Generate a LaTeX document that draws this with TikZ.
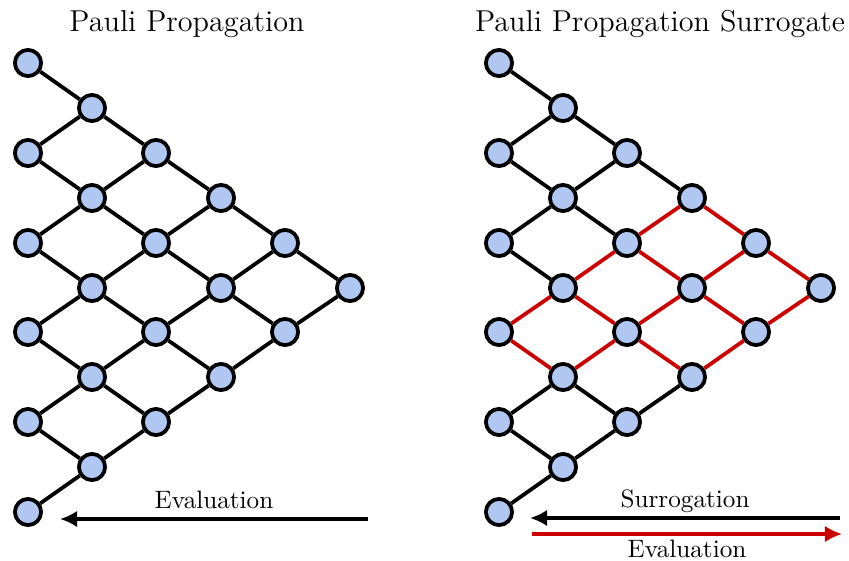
\documentclass[tikz,border=0pt]{standalone}
\usepackage{tikz}
\usetikzlibrary{arrows,arrows.meta}
\definecolor{sitefill}{RGB}{176,199,242}
\definecolor{surrred}{RGB}{204,0,0}

\begin{document}
\begin{tikzpicture}[>={Latex[length=6.8pt,width=6.6pt]},line join=bevel,scale=0.3956,
  site/.style={circle,draw=black,fill=sitefill,line width=1.5pt,inner sep=0pt,minimum size=10.4pt},
  bond/.style={draw=black,line width=1.5pt},
  sbond/.style={draw=surrred,line width=1.5pt}]
  \useasboundingbox (0bp,0bp) rectangle (849bp,560bp);
%%
  % Titles
  \node (tprop) at (187bp,536bp) {\large Pauli Propagation};
  \node (tsurr) at (660bp,536bp) {\large Pauli Propagation Surrogate};
%%
  % Nodes: left lattice, column 0
  \node[site] (p00) at (28bp,497bp) {};
  \node[site] (p01) at (28bp,407bp) {};
  \node[site] (p02) at (28bp,317bp) {};
  \node[site] (p03) at (28bp,228bp) {};
  \node[site] (p04) at (28bp,138bp) {};
  \node[site] (p05) at (28bp,48bp) {};
  % Nodes: left lattice, column 1
  \node[site] (p10) at (92bp,452bp) {};
  \node[site] (p11) at (92bp,362bp) {};
  \node[site] (p12) at (92bp,272bp) {};
  \node[site] (p13) at (92bp,183bp) {};
  \node[site] (p14) at (92bp,93bp) {};
  % Nodes: left lattice, column 2
  \node[site] (p20) at (156bp,407bp) {};
  \node[site] (p21) at (156bp,317bp) {};
  \node[site] (p22) at (156bp,228bp) {};
  \node[site] (p23) at (156bp,138bp) {};
  % Nodes: left lattice, columns 3 to 5
  \node[site] (p30) at (221bp,362bp) {};
  \node[site] (p31) at (221bp,272bp) {};
  \node[site] (p32) at (221bp,183bp) {};
  \node[site] (p40) at (285bp,317bp) {};
  \node[site] (p41) at (285bp,228bp) {};
  \node[site] (p50) at (350bp,272bp) {};
%%
  % Nodes: right lattice, column 0
  \node[site] (s00) at (499bp,497bp) {};
  \node[site] (s01) at (499bp,407bp) {};
  \node[site] (s02) at (499bp,317bp) {};
  \node[site] (s03) at (499bp,228bp) {};
  \node[site] (s04) at (499bp,138bp) {};
  \node[site] (s05) at (499bp,48bp) {};
  % Nodes: right lattice, column 1
  \node[site] (s10) at (563bp,452bp) {};
  \node[site] (s11) at (563bp,362bp) {};
  \node[site] (s12) at (563bp,272bp) {};
  \node[site] (s13) at (563bp,183bp) {};
  \node[site] (s14) at (563bp,93bp) {};
  % Nodes: right lattice, column 2
  \node[site] (s20) at (627bp,407bp) {};
  \node[site] (s21) at (627bp,317bp) {};
  \node[site] (s22) at (627bp,228bp) {};
  \node[site] (s23) at (627bp,138bp) {};
  % Nodes: right lattice, columns 3 to 5
  \node[site] (s30) at (692bp,362bp) {};
  \node[site] (s31) at (692bp,272bp) {};
  \node[site] (s32) at (692bp,183bp) {};
  \node[site] (s40) at (756bp,317bp) {};
  \node[site] (s41) at (756bp,228bp) {};
  \node[site] (s50) at (821bp,272bp) {};
%%
  % Edges: left lattice
  \draw[bond] (p00) -- (p10);
  \draw[bond] (p01) -- (p10);
  \draw[bond] (p01) -- (p11);
  \draw[bond] (p02) -- (p11);
  \draw[bond] (p02) -- (p12);
  \draw[bond] (p03) -- (p12);
  \draw[bond] (p03) -- (p13);
  \draw[bond] (p04) -- (p13);
  \draw[bond] (p04) -- (p14);
  \draw[bond] (p05) -- (p14);
  \draw[bond] (p10) -- (p20);
  \draw[bond] (p11) -- (p20);
  \draw[bond] (p11) -- (p21);
  \draw[bond] (p12) -- (p21);
  \draw[bond] (p12) -- (p22);
  \draw[bond] (p13) -- (p22);
  \draw[bond] (p13) -- (p23);
  \draw[bond] (p14) -- (p23);
  \draw[bond] (p20) -- (p30);
  \draw[bond] (p21) -- (p30);
  \draw[bond] (p21) -- (p31);
  \draw[bond] (p22) -- (p31);
  \draw[bond] (p22) -- (p32);
  \draw[bond] (p23) -- (p32);
  \draw[bond] (p30) -- (p40);
  \draw[bond] (p31) -- (p40);
  \draw[bond] (p31) -- (p41);
  \draw[bond] (p32) -- (p41);
  \draw[bond] (p40) -- (p50);
  \draw[bond] (p41) -- (p50);
%%
  % Edges: right lattice, kept part
  \draw[bond] (s00) -- (s10);
  \draw[bond] (s01) -- (s10);
  \draw[bond] (s01) -- (s11);
  \draw[bond] (s02) -- (s11);
  \draw[bond] (s02) -- (s12);
  \draw[bond] (s04) -- (s13);
  \draw[bond] (s04) -- (s14);
  \draw[bond] (s05) -- (s14);
  \draw[bond] (s10) -- (s20);
  \draw[bond] (s11) -- (s20);
  \draw[bond] (s11) -- (s21);
  \draw[bond] (s13) -- (s23);
  \draw[bond] (s14) -- (s23);
  \draw[bond] (s20) -- (s30);
  \draw[bond] (s23) -- (s32);
  % Edges: right lattice, surrogate part
  \draw[sbond] (s03) -- (s12);
  \draw[sbond] (s03) -- (s13);
  \draw[sbond] (s12) -- (s21);
  \draw[sbond] (s12) -- (s22);
  \draw[sbond] (s13) -- (s22);
  \draw[sbond] (s21) -- (s30);
  \draw[sbond] (s21) -- (s31);
  \draw[sbond] (s22) -- (s31);
  \draw[sbond] (s22) -- (s32);
  \draw[sbond] (s30) -- (s40);
  \draw[sbond] (s31) -- (s40);
  \draw[sbond] (s31) -- (s41);
  \draw[sbond] (s32) -- (s41);
  \draw[sbond] (s40) -- (s50);
  \draw[sbond] (s41) -- (s50);
%%
  % Arrows along the bottom
  \coordinate (evl0) at (368bp,41bp);
  \coordinate (evl1) at (60bp,41bp);
  \coordinate (sur0) at (840bp,42bp);
  \coordinate (sur1) at (530bp,42bp);
  \coordinate (evr0) at (532bp,26bp);
  \coordinate (evr1) at (842bp,26bp);
  \draw[->,bond] (evl0) -- (evl1) node[midway,above] {Evaluation};
  \draw[->,bond] (sur0) -- (sur1) node[midway,above,inner sep=1.5pt] {Surrogation};
  \draw[->,sbond] (evr0) -- (evr1) node[midway,below,inner sep=1.5pt] {Evaluation};
%
\end{tikzpicture}
\end{document}
